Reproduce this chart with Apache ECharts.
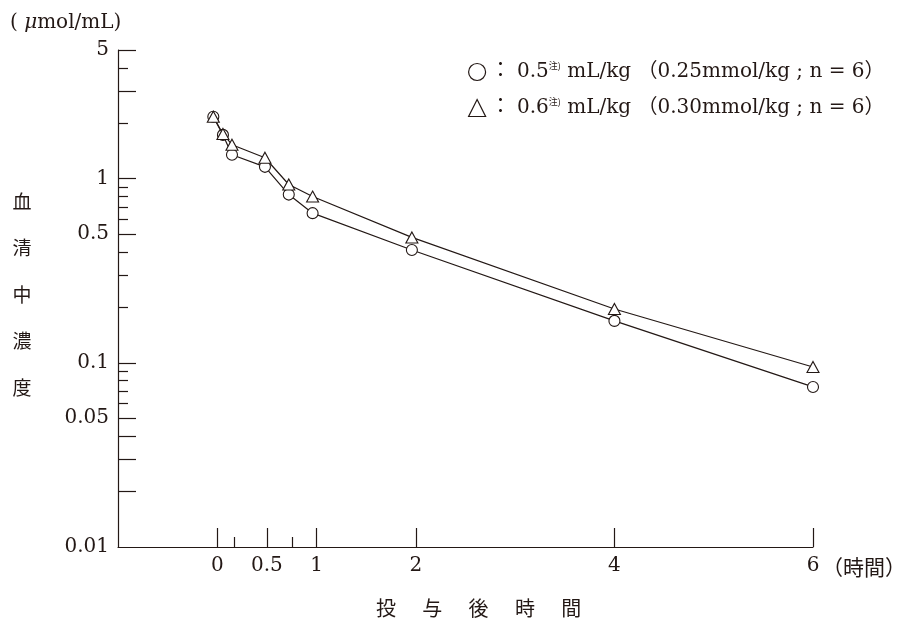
<!DOCTYPE html>
<html><head><meta charset="utf-8">
<script src="https://cdn.jsdelivr.net/npm/echarts@6/dist/echarts.min.js"></script>
<style>html,body{margin:0;padding:0;background:#fff}#c{width:904px;height:621px}</style>
</head><body><div id="c"></div>
<script>
// ---- data ----
const timesH  = [-0.04, 0.057, 0.148, 0.48, 0.72, 0.96, 1.96, 4.0, 6.0];
const conc05  = [2.17, 1.73, 1.35, 1.16, 0.82, 0.65, 0.41, 0.169, 0.074];
const conc06  = [2.17, 1.75, 1.53, 1.30, 0.93, 0.80, 0.48, 0.196, 0.095];
const seriesNames = ['0.5 mL/kg', '0.6 mL/kg'];
const legendTexts = [
  '： 0.5{s|注)} mL/kg （0.25mmol/kg ; n = 6）',
  '： 0.6{s|注)} mL/kg （0.30mmol/kg ; n = 6）'
];
const xLabelTicks = [0, 0.5, 1, 2, 4, 6];
const xMinorTicks = [1 / 6, 0.75];
const yLabelTicks = [5, 1, 0.5, 0.1, 0.05, 0.01];
const yLongTicks  = [5, 3, 1, 0.5, 0.1, 0.05, 0.04, 0.03, 0.02];
const yShortTicks = [4, 2, 0.9, 0.8, 0.7, 0.6, 0.4, 0.3, 0.2, 0.09, 0.08, 0.07, 0.06];
const yTitleChars = ['血', '清', '中', '濃', '度'];
const xTitleChars = ['投', '与', '後', '時', '間'];

const INK = '#231815';
const SERIF = "'DejaVu Serif','Liberation Serif','Noto Sans CJK JP',serif";
const CJK = "'Noto Sans CJK JP','DejaVu Serif',sans-serif";

const chart = echarts.init(document.getElementById('c'), null, {renderer: 'canvas'});

const fmtNum = v => String(+(+v).toPrecision(3));

const xBase = {
  type: 'value', min: -1, max: 6, gridIndex: 0, position: 'bottom',
  splitLine: {show: false}
};
const yBase = {
  type: 'log', logBase: 10, min: 0.01, max: 5, gridIndex: 0, position: 'left',
  splitLine: {show: false}, minorTick: {show: false}
};

const option = {
  animation: false,
  backgroundColor: '#fff',
  grid: {left: 118, right: 91, top: 50, bottom: 74, containLabel: false},
  legend: {
    orient: 'vertical', left: 463, top: 56, itemGap: 14,
    itemWidth: 17, itemHeight: 17,
    itemStyle: {color: '#fff', borderColor: INK, borderWidth: 1.2},
    data: [{name: seriesNames[0], icon: 'circle'}, {name: seriesNames[1], icon: 'triangle'}],
    formatter: name => legendTexts[seriesNames.indexOf(name)],
    textStyle: {
      fontFamily: SERIF, fontSize: 20, color: INK, lineHeight: 22,
      rich: {s: {fontFamily: CJK, fontSize: 9, color: INK, verticalAlign: 'top', lineHeight: 22}}
    }
  },
  xAxis: [
    Object.assign({}, xBase, {
      axisLine: {show: true, onZero: false, lineStyle: {color: INK, width: 1.2}},
      axisTick: {show: true, inside: true, length: 19, customValues: xLabelTicks, lineStyle: {color: INK, width: 1.2}},
      axisLabel: {show: true, customValues: xLabelTicks, margin: 9, formatter: fmtNum,
                  fontFamily: SERIF, fontSize: 20, color: INK}
    }),
    Object.assign({}, xBase, {
      axisLine: {show: false, onZero: false},
      axisTick: {show: true, inside: true, length: 10, customValues: xMinorTicks, lineStyle: {color: INK, width: 1.2}},
      axisLabel: {show: false}
    })
  ],
  yAxis: [
    Object.assign({}, yBase, {
      axisLine: {show: true, onZero: false, lineStyle: {color: INK, width: 1.2}},
      axisTick: {show: true, inside: true, length: 18, customValues: yLongTicks, lineStyle: {color: INK, width: 1.2}},
      axisLabel: {show: true, customValues: yLabelTicks, margin: 9, formatter: fmtNum,
                  fontFamily: SERIF, fontSize: 20, color: INK}
    }),
    Object.assign({}, yBase, {
      axisLine: {show: false, onZero: false},
      axisTick: {show: true, inside: true, length: 10, customValues: yShortTicks, lineStyle: {color: INK, width: 1.2}},
      axisLabel: {show: false}
    })
  ],
  series: [
    {
      name: seriesNames[0], type: 'line', xAxisIndex: 0, yAxisIndex: 0,
      data: timesH.map((t, i) => [t, conc05[i]]),
      symbol: 'circle', symbolSize: 11, showAllSymbol: true, z: 3,
      lineStyle: {color: INK, width: 1.2},
      itemStyle: {color: '#fff', borderColor: INK, borderWidth: 1.1}
    },
    {
      name: seriesNames[1], type: 'line', xAxisIndex: 0, yAxisIndex: 0,
      data: timesH.map((t, i) => [t, conc06[i]]),
      symbol: 'triangle', symbolSize: [12, 11], showAllSymbol: true, z: 4,
      lineStyle: {color: INK, width: 1.2},
      itemStyle: {color: '#fff', borderColor: INK, borderWidth: 1.1}
    }
  ],
  graphic: [
    {type: 'text', left: 10, top: 13, style: {
      text: '( {i|μ}mol/mL)', fill: INK, font: '20px ' + SERIF,
      rich: {i: {fontStyle: 'italic', fontFamily: SERIF, fontSize: 20, fill: INK}}
    }},
    {type: 'text', x: 22, y: 294.5, style: {
      text: yTitleChars.join('\n'), fill: INK, font: '19px ' + CJK,
      lineHeight: 46.5, align: 'center', verticalAlign: 'middle'
    }},
    {type: 'group', children: xTitleChars.map((ch, i) => ({
      type: 'text', x: 386 + i * 46.3, y: 608, style: {
        text: ch, fill: INK, font: '20px ' + CJK, align: 'center', verticalAlign: 'middle'
      }
    }))},
    {type: 'text', x: 822, y: 567, style: {
      text: '（時間）', fill: INK, font: '21px ' + CJK, align: 'left', verticalAlign: 'middle'
    }}
  ]
};
chart.setOption(option);
</script>
</body></html>
